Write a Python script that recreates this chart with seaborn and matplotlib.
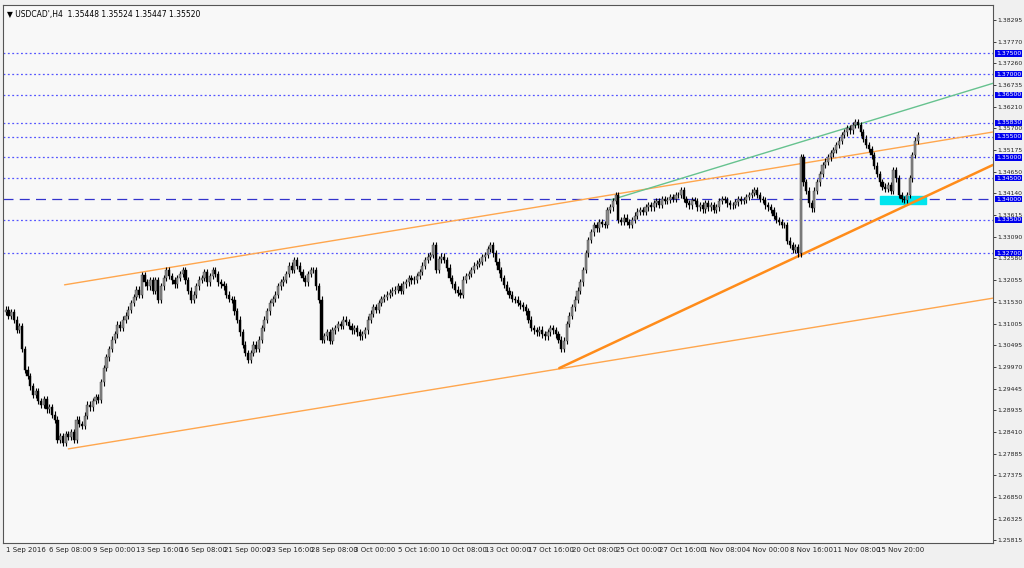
import matplotlib
matplotlib.use("Agg")
import matplotlib.pyplot as plt
import numpy as np
import pandas as pd
import seaborn as sns

# closes of the H4 bars, in pips (price * 10000)
closes_pips = [
    13134, 13120, 13128, 13110, 13086, 13095,
    13040, 12990, 12975, 12950, 12930,
    12938, 12915, 12906, 12920, 12895, 12900,
    12882, 12870, 12822, 12830, 12815, 12835,
    12829, 12840, 12822, 12870, 12860, 12855,
    12880, 12906, 12900, 12915, 12925, 12918, 12960,
    12994, 13020, 13040, 13062, 13075, 13098,
    13090, 13110, 13120, 13134, 13150, 13165,
    13182, 13170, 13218, 13200, 13190, 13205,
    13180, 13205, 13158, 13190, 13210, 13230,
    13215, 13205, 13195, 13210, 13220, 13230,
    13205, 13180, 13158, 13170, 13190, 13206,
    13210, 13225, 13200, 13215, 13230, 13220, 13200,
    13195, 13190, 13170, 13160, 13158, 13130, 13110,
    13080, 13050, 13030, 13014, 13030, 13050, 13040,
    13062, 13090, 13110, 13130, 13150, 13160,
    13170, 13190, 13200, 13206, 13220, 13240, 13230,
    13254, 13240, 13225, 13210, 13200, 13220, 13230,
    13230, 13190, 13158, 13062, 13070, 13080,
    13060, 13085, 13090, 13100, 13095, 13110, 13105,
    13095, 13085, 13090, 13080, 13070, 13075, 13085,
    13110, 13125, 13140, 13134, 13150, 13160, 13165,
    13170, 13175, 13180, 13182, 13190, 13180, 13195,
    13200, 13210, 13205, 13206, 13215, 13225, 13240,
    13254, 13262, 13266, 13290, 13230, 13255, 13262,
    13254, 13235, 13210, 13195, 13182, 13175, 13170,
    13206, 13215, 13220, 13230, 13240, 13245, 13250,
    13260, 13266, 13280, 13290, 13270, 13250, 13230,
    13210, 13194, 13180, 13170, 13160, 13158, 13150,
    13145, 13140, 13130, 13110, 13090, 13085, 13080,
    13086, 13075, 13070, 13080, 13090, 13085, 13075,
    13062, 13040, 13060, 13100, 13120, 13140,
    13158, 13180, 13200, 13230, 13270, 13302, 13320,
    13338, 13330, 13345, 13340, 13338, 13374, 13380,
    13395, 13410, 13350, 13345, 13355, 13345,
    13338, 13350, 13360, 13370, 13374, 13370, 13380,
    13386, 13380, 13390, 13395, 13386, 13400, 13395,
    13398, 13405, 13400, 13410, 13410, 13422, 13400,
    13390, 13385, 13398, 13395, 13380, 13386, 13375,
    13390, 13380, 13385, 13374, 13380, 13395, 13400,
    13398, 13390, 13385, 13386, 13392, 13400, 13395,
    13398, 13405, 13410, 13415, 13422, 13410, 13400,
    13398, 13385, 13380, 13374, 13360, 13350, 13345,
    13338, 13338, 13300, 13290, 13278, 13285, 13270,
    13500, 13440, 13420, 13390, 13378, 13420,
    13440, 13460, 13482, 13490, 13500, 13510, 13518,
    13530, 13540, 13554, 13560, 13570, 13565, 13578,
    13585, 13578, 13560, 13545, 13530, 13520, 13505,
    13480, 13460, 13440, 13430, 13425, 13434, 13420,
    13470, 13450, 13410, 13400, 13398, 13410,
    13450, 13506, 13540, 13554,
]

tick_bars = list(range(0, 321, 16))
tick_labels = ["1 Sep 2016", "6 Sep 08:00", "9 Sep 00:00", "13 Sep 16:00", "16 Sep 08:00",
               "21 Sep 00:00", "23 Sep 16:00", "28 Sep 08:00", "3 Oct 00:00", "5 Oct 16:00",
               "10 Oct 08:00", "13 Oct 00:00", "17 Oct 16:00", "20 Oct 08:00", "25 Oct 00:00",
               "27 Oct 16:00", "1 Nov 08:00", "4 Nov 00:00", "8 Nov 16:00", "11 Nov 08:00",
               "15 Nov 20:00"]
price_ticks = [1.38295, 1.37770, 1.37260, 1.36735, 1.36210, 1.35700, 1.35175, 1.34650,
               1.34140, 1.33615, 1.33090, 1.32580, 1.32055, 1.31530, 1.31005, 1.30495,
               1.29970, 1.29445, 1.28935, 1.28410, 1.27885, 1.27375, 1.26850, 1.26325, 1.25815]
levels = [1.3750, 1.3700, 1.3650, 1.3583, 1.3550, 1.3500, 1.3450, 1.3400, 1.3350, 1.3270]
# trend lines: (bar0, price0, bar1, price1, colour, width)
trendlines = [
    (21.6, 1.3194, 362.6, 1.3561, "#ffa64d", 1.0),
    (23.0, 1.2800, 362.6, 1.3162, "#ffa64d", 1.0),
    (203.3, 1.2994, 362.6, 1.3482, "#ff8c1a", 1.8),
    (222.3, 1.3398, 362.6, 1.3678, "#66c28f", 1.0),
]

df = pd.DataFrame({"close": np.array(closes_pips) / 10000})
df["open"] = df["close"].shift(1).fillna(df["close"].iloc[0] - 0.0005)
df["high"] = df[["open", "close"]].max(axis=1) + 0.0008
df["low"] = df[["open", "close"]].min(axis=1) - 0.0008
df["bar"] = np.arange(len(df))

sns.set_style("white")
plt.rcParams["font.family"] = ["DejaVu Sans"]
fig = plt.figure(figsize=(10.24, 5.68), dpi=100, facecolor="#f0f0f0")
ax = fig.add_axes([3 / 1024, 1 - 543 / 568, 990 / 1024, 538 / 568])
ax.set_facecolor("#f8f8f8")

for lv in levels:
    if lv == 1.3400:
        ax.axhline(lv, color="#3333cc", lw=0.9, ls=(0, (8, 5)), zorder=1)
    else:
        ax.axhline(lv, color="#5555ff", lw=0.9, ls=(0, (1.5, 2)), zorder=1)

ax.add_patch(plt.Rectangle((321, 1.3388), 17, 0.0019, color="#00e5ee", zorder=2))

for b0, p0, b1, p1, c, w in trendlines:
    ax.plot([b0, b1], [p0, p1], color=c, lw=w, zorder=3)

up = df["close"] >= df["open"]
ax.vlines(df["bar"], df["low"], df["high"], color="black", lw=0.8, zorder=4)
ax.bar(df["bar"][up], (df["close"] - df["open"])[up], bottom=df["open"][up], width=0.8,
       color="#8c8c8c", edgecolor="#333333", linewidth=0.3, zorder=5)
ax.bar(df["bar"][~up], (df["open"] - df["close"])[~up], bottom=df["close"][~up], width=0.8,
       color="black", edgecolor="black", linewidth=0.3, zorder=5)

ax.set_xlim(-1, 362.6)
ax.set_ylim(1.2574, 1.3866)
ax.yaxis.tick_right()
ax.set_yticks(price_ticks)
ax.set_yticklabels([f"{p:.5f}" for p in price_ticks], fontsize=4.4)
ax.set_xticks(tick_bars)
ax.set_xticklabels(tick_labels, fontsize=5, ha="left")
ax.tick_params(axis="both", length=2, width=0.6, pad=1, colors="#222222")
for s in ax.spines.values():
    s.set_color("#555555")
    s.set_linewidth(0.8)

for lv in levels:
    ax.text(1.003, lv, f"{lv:.5f}", transform=ax.get_yaxis_transform(), fontsize=4.4,
            color="white", va="center", ha="left",
            bbox=dict(boxstyle="square,pad=0.12", fc="#0000ee", ec="none"), zorder=10)

ax.text(0.004, 0.99, "\u25bc USDCAD',H4  1.35448 1.35524 1.35447 1.35520",
        transform=ax.transAxes, fontsize=5.5, va="top", ha="left", color="black")

fig.savefig("out.png", dpi=100, facecolor=fig.get_facecolor())
